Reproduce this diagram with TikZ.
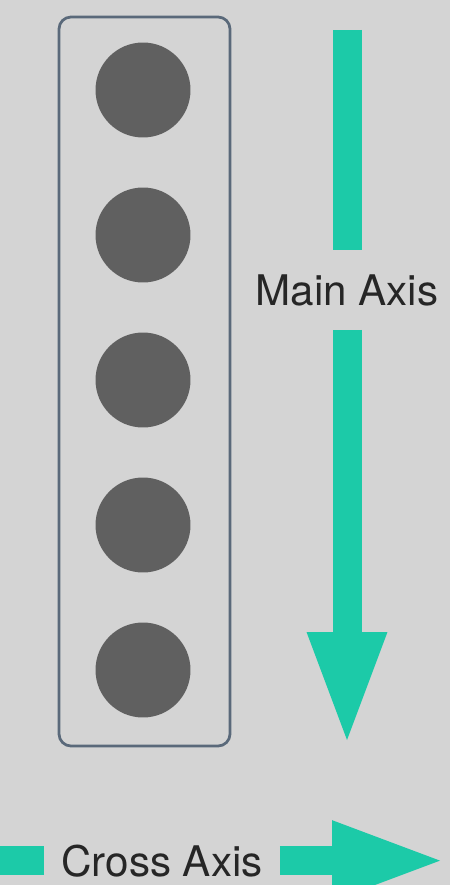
\documentclass[tikz,border=0pt]{standalone}
\usepackage{fontspec}
\setmainfont{TeX Gyre Heros}
\usetikzlibrary{arrows.meta,positioning}
\definecolor{bggray}{HTML}{D4D4D4}
\definecolor{axisteal}{HTML}{1CCAA8}
\definecolor{dotgray}{HTML}{606060}
\definecolor{boxslate}{HTML}{5A697A}
\tikzset{
    %Define standard arrow tip
    >={Triangle[width=1.62cm,length=2.16cm,line width=0pt]},
    %Define style for the items
    item/.style={
           circle,
           fill=dotgray,
           minimum size=1.9cm,
           inner sep=0pt},
    %Define style for the container
    container/.style={
           draw=boxslate,
           line width=0.055cm,
           rounded corners=0.24cm},
    % Define label style
    axislabel/.style={
           font=\fontsize{24}{28}\selectfont,
           text=black!85,
           inner sep=0.48cm,
           anchor=base},
    % Define axis style
    axis/.style={
           draw=axisteal,
           line width=0.58cm}
}

\begin{document}
\begin{tikzpicture}[x=0.02cm, y=-0.02cm]
    % BACKGROUND
    \useasboundingbox (0,0) rectangle (450,885);
    \fill[bggray] (0,0) rectangle (450,885);

    % CONTAINER
    \draw[container] (59,17) rectangle (230,746);
    \foreach \i in {1,...,5}
        \node[item] (item\i) at (143,{90+145*(\i-1)}) {};

    % MAIN AXIS
    \coordinate (mtop) at (347,30);
    \coordinate (mtip) at (347,740);
    \node[axislabel] (mainlbl) at (347,305) {Main Axis};
    \draw[axis] (mtop) -- (mainlbl.north);
    \draw[axis,->] (mainlbl.south) -- (mtip);

    % CROSS AXIS
    \coordinate (cstart) at (-15,861);
    \coordinate (ctip) at (440,861);
    \node[axislabel, inner xsep=0.34cm] (crosslbl) at (162,876) {Cross Axis};
    \draw[axis] (crosslbl.west) -- (crosslbl.west -| cstart);
    \draw[axis,->] (crosslbl.east) -- (crosslbl.east -| ctip);

\end{tikzpicture}
\end{document}
